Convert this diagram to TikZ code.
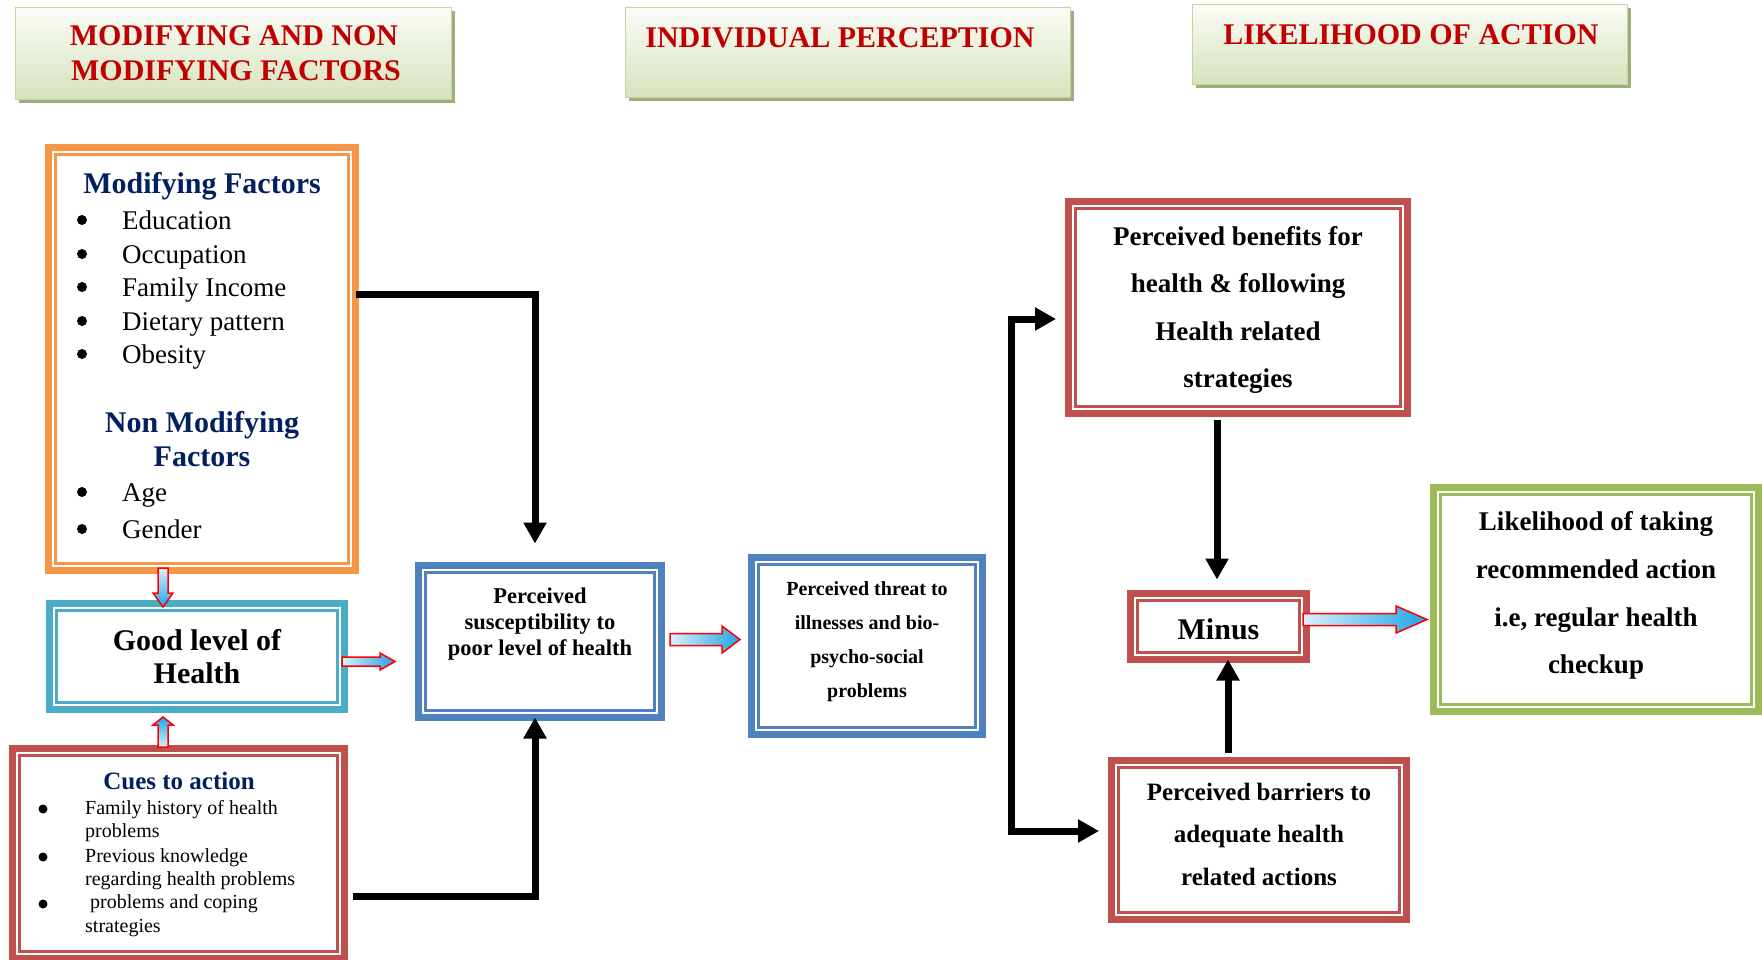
\documentclass[tikz,border=0pt]{standalone}
\usepackage{fontspec}
\setmainfont{Liberation Serif}
\usetikzlibrary{arrows.meta,shadows,calc}
\definecolor{hred}{RGB}{192,0,0}
\definecolor{navy}{RGB}{0,32,96}
\definecolor{orangeB}{RGB}{247,150,70}
\definecolor{tealB}{RGB}{75,172,198}
\definecolor{blueB}{RGB}{79,129,189}
\definecolor{redB}{RGB}{192,80,77}
\definecolor{greenB}{RGB}{155,187,89}
\definecolor{htop}{RGB}{251,252,248}
\definecolor{hbot}{RGB}{214,227,188}
\definecolor{hline}{RGB}{195,214,155}
\definecolor{hshadow}{RGB}{160,172,128}
\definecolor{lblue}{RGB}{218,240,252}
\definecolor{dblue}{RGB}{28,165,230}
\definecolor{outred}{RGB}{255,0,0}
\newcommand\dbox[6]{%
  \node[dboxst=#6, minimum width={#4-#2-7}, minimum height={#5-#3-7}] (#1) at ({(#2+#4)/2},{(#3+#5)/2}) {};
  \draw[inl=#6] ({#2+10.5},{#3+10.5}) rectangle ({#4-10.5},{#5-10.5});
}
\newcommand\harr[6]{%
  \path[barr, left color=lblue, right color=dblue] (#1,{#3-#4}) -- (#6,{#3-#4}) -- (#6,{#3-#5}) -- (#2,#3) -- (#6,{#3+#5}) -- (#6,{#3+#4}) -- (#1,{#3+#4}) -- cycle;
}
\newcommand\varr[7]{%
  \path[barr, #7] ({#1-#4},#2) -- ({#1-#4},#6) -- ({#1-#5},#6) -- (#1,#3) -- ({#1+#5},#6) -- ({#1+#4},#6) -- ({#1+#4},#2) -- cycle;
}
\begin{document}
\begin{tikzpicture}[x=1pt,y=-1pt,
  dboxst/.style={draw=#1, line width=7pt, inner sep=0pt, outer sep=0pt, fill=white},
  inl/.style={draw=#1, line width=2.2pt},
  hdr/.style={draw=hline, line width=1pt, top color=htop, bottom color=hbot, inner sep=0pt,
    drop shadow={shadow xshift=4pt, shadow yshift=-4pt, fill=hshadow, opacity=1}},
  hdrtxt/.style={font=\fontsize{30}{35}\selectfont\bfseries, text=hred, inner sep=0pt, anchor=base},
  navyttl/.style={font=\fontsize{30}{30}\selectfont\bfseries, text=navy, inner sep=0pt, anchor=base},
  cuettl/.style={font=\fontsize{25}{25}\selectfont\bfseries, text=navy, inner sep=0pt, anchor=base},
  itm/.style={font=\fontsize{27}{27}\selectfont, inner sep=0pt, anchor=base west},
  citm/.style={font=\fontsize{20}{20}\selectfont, inner sep=0pt, anchor=base west},
  bul/.style={circle, fill=black, inner sep=0pt, minimum size=#1},
  btxt/.style={font=\fontsize{#1}{#1}\selectfont\bfseries, inner sep=0pt, anchor=base},
  barr/.style={draw=outred, line width=1.5pt, line join=miter},
  blk/.style={line width=7pt, line join=miter, -{Triangle[length=21pt,width=22pt]}},
  blkb/.style={line width=7pt, line join=miter, {Triangle[length=21pt,width=22pt]}-{Triangle[length=21pt,width=22pt]}}
]
\useasboundingbox (0,0) rectangle (1762,959);

% ---------- headers ----------
\node[hdr, minimum width=436pt, minimum height=92pt] (h1) at (233,53) {};
\node[hdrtxt] (h1a) at (234,45) {MODIFYING AND NON};
\node[hdrtxt] (h1b) at (236,80) {MODIFYING FACTORS};
\node[hdr, minimum width=445pt, minimum height=90pt] (h2) at (847.5,52) {};
\node[hdrtxt] (h2a) at (840,47) {INDIVIDUAL PERCEPTION};
\node[hdr, minimum width=435pt, minimum height=80pt] (h3) at (1409.5,44) {};
\node[hdrtxt] (h3a) at (1411,44) {LIKELIHOOD OF ACTION};

% ---------- boxes ----------
\dbox{mod}{45}{144}{359}{574}{orangeB}
\dbox{good}{46}{600}{348}{713}{tealB}
\dbox{cues}{9}{745}{348}{962}{redB}
\dbox{susc}{415}{562}{665}{721}{blueB}
\dbox{thr}{748}{554}{986}{738}{blueB}
\dbox{ben}{1065}{198}{1411}{417}{redB}
\dbox{minus}{1127}{590}{1310}{663}{redB}
\dbox{bar}{1108}{757}{1410}{923}{redB}
\dbox{lik}{1430}{484}{1762}{715}{greenB}

% ---------- modifying factors ----------
\node[navyttl] (modT) at (202,193) {Modifying Factors};
\foreach \t/\yy [count=\i] in {Education/229, Occupation/263, Family Income/296, Dietary pattern/330, Obesity/363} {
  \node[bul=10pt] (mb\i) at (82,{\yy-9}) {};
  \node[itm] (mi\i) at (122,\yy) {\t};
}
\node[navyttl] (nmT1) at (202,432) {Non Modifying};
\node[navyttl] (nmT2) at (202,466) {Factors};
\foreach \t/\yy [count=\i] in {Age/501, Gender/538} {
  \node[bul=10pt] (nb\i) at (82,{\yy-9}) {};
  \node[itm] (ni\i) at (122,\yy) {\t};
}

% ---------- good level of health ----------
\node[btxt=30] (g1) at (197,650) {Good level of};
\node[btxt=30] (g2) at (197,683) {Health};

% ---------- cues ----------
\node[cuettl] (cT) at (179,789) {Cues to action};
\node[bul=9pt] (cb1) at (43,809) {};
\node[bul=9pt] (cb2) at (43,857) {};
\node[bul=9pt] (cb3) at (43,904) {};
\node[citm] (c1) at (85,814) {Family history of health};
\node[citm] (c2) at (85,837) {problems};
\node[citm] (c3) at (85,862) {Previous knowledge};
\node[citm] (c4) at (85,885) {regarding health problems};
\node[citm] (c5) at (90,908) {problems and coping};
\node[citm] (c6) at (85,932) {strategies};

% ---------- susceptibility ----------
\node[btxt=22.5] (s1) at (540,603) {Perceived};
\node[btxt=22.5] (s2) at (540,629) {susceptibility to};
\node[btxt=22.5] (s3) at (540,655) {poor level of health};

% ---------- threat ----------
\node[btxt=20] (t1) at (867,595) {Perceived threat to};
\node[btxt=20] (t2) at (867,629) {illnesses and bio-};
\node[btxt=20] (t3) at (867,663) {psycho-social};
\node[btxt=20] (t4) at (867,697) {problems};

% ---------- benefits ----------
\node[btxt=27] (b1) at (1238,245) {Perceived benefits for};
\node[btxt=27] (b2) at (1238,292.5) {health \& following};
\node[btxt=27] (b3) at (1238,340) {Health related};
\node[btxt=27] (b4) at (1238,387.5) {strategies};

% ---------- minus ----------
\node[btxt=30] (m1) at (1218.5,639) {Minus};

% ---------- barriers ----------
\node[btxt=25] (r1) at (1259,800) {Perceived barriers to};
\node[btxt=25] (r2) at (1259,842.5) {adequate health};
\node[btxt=25] (r3) at (1259,885) {related actions};

% ---------- likelihood ----------
\node[btxt=27] (l1) at (1596,530) {Likelihood of taking};
\node[btxt=27] (l2) at (1596,578) {recommended action};
\node[btxt=27] (l3) at (1596,626) {i.e, regular health};
\node[btxt=27] (l4) at (1596,673) {checkup};

% ---------- block arrows ----------
\varr{163}{568}{607}{5}{10}{593}{top color=lblue, bottom color=dblue}
\varr{163}{747}{717}{5}{10}{725}{bottom color=lblue, top color=dblue}
\harr{342}{395}{661.5}{4.5}{8.5}{380}
\harr{670}{740}{639.5}{6}{13.5}{722}
\harr{1303}{1427}{619.5}{6}{13.5}{1396}

% ---------- black connectors ----------
\coordinate (k1) at (535,294);
\coordinate (k2) at (535,896);
\coordinate (k3) at (1011,319);
\coordinate (k4) at (1011,831);
\coordinate (k5) at (1217,0);
\coordinate (k6) at (1228,0);
\draw[blk] (mod.east |- k1) -- (k1) -- ([yshift=22pt]susc.north -| k1);
\draw[blk] ([xshift=8pt]cues.east |- k2) -- (k2) -- (susc.south -| k2);
\draw[blkb] ([xshift=-12.5pt]ben.west |- k3) -- (k3) -- (k4) -- ([xshift=-12.5pt]bar.west |- k4);
\draw[blk] ([yshift=-6pt]ben.south -| k5) -- ([yshift=14pt]minus.north -| k5);
\draw[blk] ([yshift=8pt]bar.north -| k6) -- (minus.south -| k6);
\end{tikzpicture}
\end{document}
